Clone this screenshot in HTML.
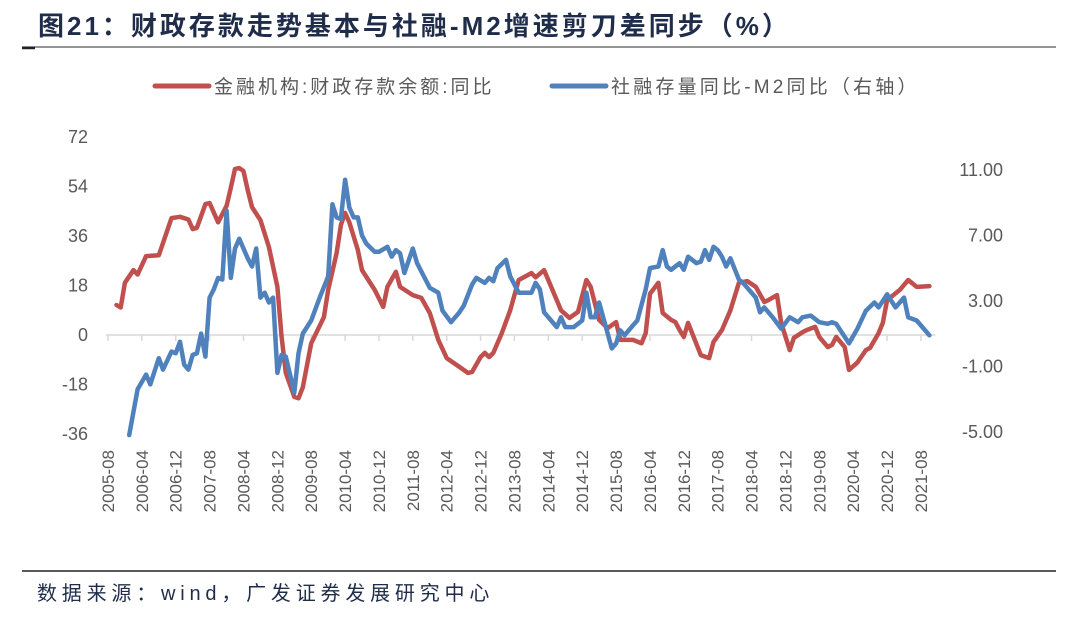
<!DOCTYPE html>
<html><head><meta charset="utf-8">
<style>
body{margin:0;background:#fff;width:1080px;height:622px;overflow:hidden;font-family:"Liberation Sans","Noto Sans CJK SC",sans-serif;}
svg text{font-family:"Liberation Sans","Noto Sans CJK SC",sans-serif;}
</style></head><body>
<svg id="chart" width="1080" height="622" xmlns="http://www.w3.org/2000/svg">
<text x="38" y="35" font-size="26" font-weight="bold" letter-spacing="3" fill="#1f2d4a">图21：财政存款走势基本与社融-M2增速剪刀差同步（%）</text>
<line x1="22" y1="47" x2="1056" y2="47" stroke="#555" stroke-width="1.2"/>
<line x1="22" y1="48" x2="35" y2="48" stroke="#222" stroke-width="2.5"/>
<g>
<line x1="155" y1="86" x2="209" y2="86" stroke="#c0504d" stroke-width="5" stroke-linecap="round"/>
<text x="214" y="93" font-size="19" letter-spacing="3" fill="#595959">金融机构:财政存款余额:同比</text>
<line x1="552" y1="86" x2="606" y2="86" stroke="#4f81bd" stroke-width="5" stroke-linecap="round"/>
<text x="611" y="93" font-size="19" letter-spacing="3.2" fill="#595959">社融存量同比-M2同比（右轴）</text>
</g>
<g id="plot"></g>
<line x1="22" y1="571" x2="1056" y2="571" stroke="#222" stroke-width="1.5"/>
<text x="37" y="600" font-size="20" letter-spacing="4.8" fill="#1f2d4a">数据来源：wind，广发证券发展研究中心</text>
</svg>
<script>
const startYear=2005, startMonth=8, totalMonths=194;
const leftTicks=[72,54,36,18,0,-18,-36];
const rightTicks=[11,7,3,-1,-5];
const rightTickLabels=["11.00","7.00","3.00","-1.00","-5.00"];
const xLabelMonths=[0,8,16,24,32,40,48,56,64,72,80,88,96,104,112,120,128,136,144,152,160,168,176,184,192];
// month index since 2005-08
const redMonth=[2,3,4,6,7,9,12,15,17,19,20,21,23,24,26,28,29,30,31,32,33,34,36,38,40,41,42,44,45,46,48,51,52,54,55,56,57,59,60,63,65,66,68,69,72,74,76,78,80,83,85,86,88,89,90,91,93,95,97,100,101,103,104,107,109,111,113,114,116,118,120,121,124,126,127,128,130,131,133,134,135,136,137,140,142,143,145,147,149,151,153,155,156,158,159,161,162,164,165,167,168,170,171,172,174,175,177,179,180,182,183,184,187,189,191,194];
const redValues=[10.9,10,19,23.6,22,28.7,29,42.5,43,42,38.5,39,47.6,48,41,47,53.5,60.4,60.7,59.6,52.7,46.5,41.8,32,17.5,-0.7,-13.8,-22.5,-23,-19,-3,6.5,16.4,29.8,40,44.4,41,31,23.6,16.4,10.2,17.5,23,17.5,14.5,13.5,8,-1.8,-8.4,-11.6,-13.8,-13.4,-8,-6.5,-8,-6.5,0.7,9,20,22.5,21,23.6,20,9,6.2,8.4,20,17.5,5.5,2.5,4.7,-1.8,-1.8,-3,0.7,15,19,8,5.5,4.7,1.8,-0.7,4.4,-7.3,-8.4,-2.5,1.8,9,19,19.6,17.5,12,12.7,14.5,4.4,-5.5,-1,1,1.8,3,-0.7,-4.4,-3.6,-0.7,-4.4,-12.7,-10,-5.5,-4.7,0.7,4.4,12.7,16.4,20,17.5,17.8];
const blueMonth=[5,6,7,9,10,12,13,15,16,17,18,19,20,21,22,23,24,25,26,27,28,29,30,31,33,34,35,36,37,38,39,40,41,42,44,45,46,48,50,52,53,54,55,56,57,58,59,60,61,63,64,66,67,68,69,70,72,73,74,76,78,79,81,83,84,86,87,89,90,91,92,94,95,97,100,101,102,103,106,107,108,110,112,113,114,115,116,119,120,121,122,124,125,127,128,130,131,132,133,135,136,137,139,140,141,142,143,144,145,146,147,149,150,151,153,154,155,157,159,161,163,164,166,168,170,171,172,175,177,179,181,182,184,186,188,189,191,192,194];
const blueValues=[-5.2,-3.8,-2.4,-1.5,-2.1,-0.5,-1.2,-0.1,-0.2,0.5,-0.9,-1.2,-0.3,-0.2,1,-0.4,3.2,3.7,4.4,4.3,8.5,4.4,6.2,6.8,5.6,5.1,6.2,3.2,3.5,2.9,3.2,-1.4,-0.3,-0.4,-2.6,-0.2,1,1.8,3.2,4.5,8.9,8.1,8,10.4,8.7,8.1,8.1,7,6.5,6,6,6.3,5.7,6.1,5.9,4.7,6.2,5.3,4.8,3.8,3.5,2.4,1.7,2.3,2.7,4,4.4,4.1,4.4,4.2,5,5.5,4.5,3.5,3.5,4.1,3.7,2.3,1.4,2,1.4,1.4,1.8,3.5,2,2,2.9,0.1,0.4,1.2,0.9,1.5,1.8,3.7,5,5.1,6.1,5.1,4.9,5.3,4.9,5.7,5.3,5.4,6.1,5.5,6.3,6.1,5.7,5.1,5.6,4.3,4.1,3.8,3.2,2.3,2.6,2,1.3,2,1.7,2,2.1,1.7,1.6,1.7,1.6,0.4,1.3,2.4,2.9,2.6,3.4,2.6,3.2,2,1.8,1.5,0.9];

const NS="http://www.w3.org/2000/svg";
const plot=document.getElementById('plot');
const X0=108, XW=4.234;
function xScale(m){return X0+m*XW;}
function yLeft(v){return 335-v*(198/72);}
function yRight(v){return 350-v*(65.5/4);}
function mk(tag,attrs){const e=document.createElementNS(NS,tag);for(const k in attrs)e.setAttribute(k,attrs[k]);plot.appendChild(e);return e;}
function monthLabel(m){const t=startMonth-1+m;const y=startYear+Math.floor(t/12);const mo=t%12+1;return y+"-"+(mo<10?"0":"")+mo;}

let ax=mk('line',{x1:xScale(0)-2,y1:yLeft(0),x2:xScale(totalMonths)+6,y2:yLeft(0),stroke:'#d9d9d9','stroke-width':1.5});


xLabelMonths.forEach(m=>{
  const x=xScale(m);
  const t=mk('line',{x1:x,y1:yLeft(0),x2:x,y2:yLeft(0)+6,stroke:'#d9d9d9','stroke-width':1.5});
  
  
  const l=mk('text',{x:0,y:0,transform:'translate('+(x+6)+',450) rotate(-90)','text-anchor':'end','font-size':17,fill:'#595959'});
  
  
  l.textContent=monthLabel(m);
});
leftTicks.forEach(v=>{
  const l=mk('text',{x:88,y:yLeft(v)+6,'text-anchor':'end','font-size':18,fill:'#595959'});
  
  
  l.textContent=v;
});
rightTicks.forEach((v,i)=>{
  const l=mk('text',{x:1003,y:yRight(v)+6,'text-anchor':'end','font-size':18,fill:'#595959'});
  
  
  l.textContent=rightTickLabels[i];
});
function path(ms,vs,ys){return ms.map((m,i)=>(i?'L':'M')+xScale(m).toFixed(1)+','+ys(vs[i]).toFixed(1)).join('');}
const rp=mk('path',{d:path(redMonth,redValues,yLeft),fill:'none',stroke:'#c0504d','stroke-width':4.5,'stroke-linejoin':'round','stroke-linecap':'round'});


const bp=mk('path',{d:path(blueMonth,blueValues,yRight),fill:'none',stroke:'#4f81bd','stroke-width':4.5,'stroke-linejoin':'round','stroke-linecap':'round'});


</script>
</body></html>
